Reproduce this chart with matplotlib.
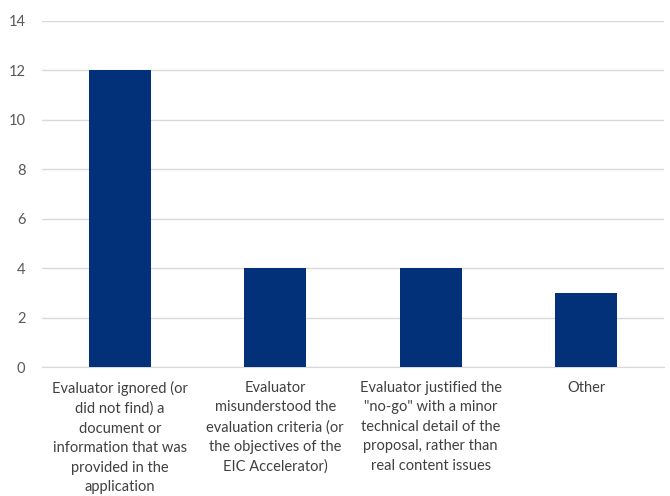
import matplotlib.pyplot as plt

plt.rcParams['font.family'] = ['Lato', 'DejaVu Sans']

categories = [
    'Evaluator ignored (or\ndid not find) a\ndocument or\ninformation that was\nprovided in the\napplication',
    'Evaluator\nmisunderstood the\nevaluation criteria (or\nthe objectives of the\nEIC Accelerator)',
    'Evaluator justified the\n"no-go" with a minor\ntechnical detail of the\nproposal, rather than\nreal content issues',
    'Other',
]
values = [12, 4, 4, 3]
yticks = [0, 2, 4, 6, 8, 10, 12, 14]

fig = plt.figure(figsize=(6.7, 4.96), dpi=100)
ax = fig.add_axes([0.0627, 0.26, 0.9283, 0.6977])

x = range(len(categories))
ax.bar(x, values, width=0.4, color='#023179', zorder=3)

ax.set_xlim(-0.5, len(categories) - 0.5)
ax.set_ylim(0, 14)
ax.set_yticks(yticks)
ax.set_xticks(list(x))
ax.set_xticklabels(categories, fontsize=10.5, color='#404040', linespacing=1.5, va='top')
ax.tick_params(axis='y', labelsize=10.5, labelcolor='#595959', length=0, pad=12)
ax.tick_params(axis='x', length=0, pad=10)

ax.grid(axis='y', color='#d9d9d9', linewidth=1, zorder=0)
for s in ['top', 'right', 'left']:
    ax.spines[s].set_visible(False)
ax.spines['bottom'].set_color('#d9d9d9')

fig.savefig('out.png', dpi=100)
